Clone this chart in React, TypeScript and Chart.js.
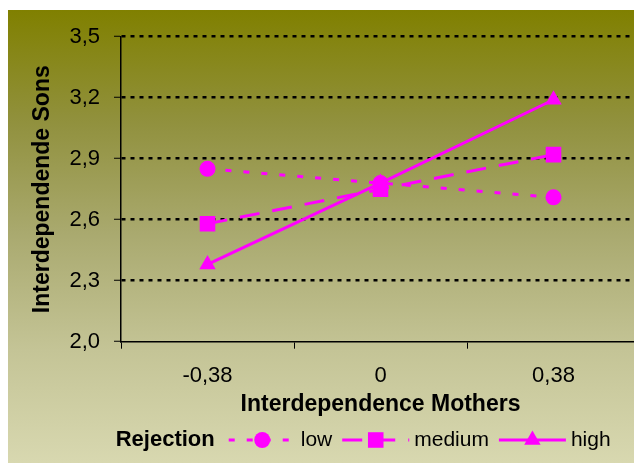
import React, { useEffect, useRef } from "react";
import { Chart, registerables } from "chart.js";

Chart.register(...registerables);

const categories = ["-0,38", "0", "0,38"];
const seriesNames = ["low", "medium", "high"];
const lowValues = [2.85, 2.78, 2.71];
const mediumValues = [2.58, 2.75, 2.92];
const highValues = [2.38, 2.78, 3.19];
const yTickValues = [2.0, 2.3, 2.6, 2.9, 3.2, 3.5];
const xTitle = "Interdependence Mothers";
const yTitle = "Interdependende Sons";
const legendTitle = "Rejection";

const FONT = "'Liberation Sans', Arial, sans-serif";
const MAGENTA = "#FF00FF";

const W = 660;
const H = 464;

function drawMarker(ctx: CanvasRenderingContext2D, style: string, r: number, x: number, y: number) {
  ctx.beginPath();
  if (style === "circle") {
    ctx.arc(x, y, r, 0, Math.PI * 2);
  } else if (style === "rect") {
    const s = Math.SQRT1_2 * r;
    ctx.rect(x - s, y - s, 2 * s, 2 * s);
  } else if (style === "triangle") {
    ctx.moveTo(x, y - r);
    ctx.lineTo(x + r * Math.sin((2 * Math.PI) / 3), y - r * Math.cos((2 * Math.PI) / 3));
    ctx.lineTo(x + r * Math.sin((4 * Math.PI) / 3), y - r * Math.cos((4 * Math.PI) / 3));
    ctx.closePath();
  }
  ctx.fill();
}

const backgroundPlugin = {
  id: "bgGradient",
  beforeDraw(chart: any) {
    const { ctx } = chart;
    const g = ctx.createLinearGradient(0, 10, 0, 463);
    g.addColorStop(0, "rgb(128,128,0)");
    g.addColorStop(0.25, "rgb(145,145,62)");
    g.addColorStop(0.5, "rgb(170,170,112)");
    g.addColorStop(0.75, "rgb(196,196,150)");
    g.addColorStop(1, "rgb(216,216,176)");
    ctx.save();
    ctx.fillStyle = g;
    ctx.fillRect(8, 10, W - 8, 453);
    ctx.restore();
  },
};

const legendPlugin = {
  id: "customLegend",
  afterDraw(chart: any) {
    const { ctx } = chart;
    const baseline = 445.7;
    const lineY = 440;
    const sampleW = 67;
    let x = 115.7;
    ctx.save();
    ctx.fillStyle = "#000";
    ctx.textBaseline = "alphabetic";
    ctx.textAlign = "left";
    ctx.font = `bold 22px ${FONT}`;
    ctx.fillText(legendTitle, x, baseline);
    x += ctx.measureText(legendTitle).width + 14;
    chart.data.datasets.forEach((ds: any) => {
      ctx.save();
      ctx.strokeStyle = ds.borderColor;
      ctx.lineWidth = ds.borderWidth;
      ctx.setLineDash(ds.borderDash || []);
      ctx.beginPath();
      ctx.moveTo(x, lineY);
      ctx.lineTo(x + sampleW, lineY);
      ctx.stroke();
      ctx.setLineDash([]);
      ctx.fillStyle = ds.pointBackgroundColor;
      drawMarker(ctx, ds.pointStyle, ds.pointRadius, x + sampleW / 2, lineY);
      ctx.restore();
      x += sampleW + 5;
      ctx.fillStyle = "#000";
      ctx.font = `21px ${FONT}`;
      ctx.fillText(ds.label, x, baseline);
      x += ctx.measureText(ds.label).width + 10;
    });
    ctx.restore();
  },
};

export default function App() {
  const ref = useRef<HTMLCanvasElement | null>(null);
  useEffect(() => {
    if (!ref.current) return;
    const values = [lowValues, mediumValues, highValues];
    const dashes = [[6, 12], [20, 13], []];
    const styles = ["circle", "rect", "triangle"];
    const radii = [8, 11, 9.5];
    const chart = new Chart(ref.current, {
      type: "line",
      data: {
        labels: categories,
        datasets: seriesNames.map((name, i) => ({
          label: name,
          data: values[i],
          borderColor: MAGENTA,
          backgroundColor: MAGENTA,
          borderWidth: 3,
          borderDash: dashes[i],
          pointStyle: styles[i],
          pointRadius: radii[i],
          pointHoverRadius: radii[i],
          pointBackgroundColor: MAGENTA,
          pointBorderColor: MAGENTA,
          pointBorderWidth: 0,
          tension: 0,
          fill: false,
          order: 3 - i,
        })),
      },
      options: {
        responsive: false,
        animation: false,
        events: [],
        layout: { padding: { top: 36.7, right: 20, left: 0, bottom: 0 } },
        plugins: {
          legend: { display: false },
          tooltip: { enabled: false },
        },
        scales: {
          x: {
            type: "category",
            offset: true,
            grid: {
              offset: true,
              drawOnChartArea: false,
              tickLength: 7,
              tickColor: "#000",
              tickWidth: 1,
            },
            border: { color: "#000", width: 1.5 },
            ticks: {
              color: "#000",
              font: { family: FONT, size: 22 },
              padding: 14,
              maxRotation: 0,
              autoSkip: false,
            },
            title: {
              display: true,
              text: xTitle,
              color: "#000",
              font: { family: FONT, size: 23, weight: "bold" },
              padding: { top: 0, bottom: 46 },
            },
            afterFit: (s: any) => {
              s.height = H - 341.7;
            },
          },
          y: {
            min: 2.0,
            max: 3.5,
            afterBuildTicks: (s: any) => {
              s.ticks = yTickValues.map((v) => ({ value: v }));
            },
            grid: {
              color: (c: any) => (c.tick && Math.abs(c.tick.value - 2.0) < 1e-6 ? "rgba(0,0,0,0)" : "#000"),
              lineWidth: 2.5,
              tickLength: 7,
              tickColor: "#000",
              tickWidth: 1,
            },
            border: { color: "#000", width: 1.5, dash: [4, 5] },
            ticks: {
              color: "#000",
              font: { family: FONT, size: 22 },
              padding: 14,
              callback: (v: any) => Number(v).toFixed(1).replace(".", ","),
            },
            title: {
              display: true,
              text: yTitle,
              color: "#000",
              font: { family: FONT, size: 23, weight: "bold" },
              padding: { top: 28.7, bottom: 0 },
            },
            afterFit: (s: any) => {
              s.width = 121;
            },
          },
        },
      },
      plugins: [backgroundPlugin, legendPlugin],
    } as any);
    return () => chart.destroy();
  }, []);
  return (
    <div style={{ position: "fixed", left: 0, top: 0, width: 634, height: 464, overflow: "hidden" }}>
      <canvas ref={ref} width={W} height={H} style={{ display: "block", width: W, height: H }} />
    </div>
  );
}
